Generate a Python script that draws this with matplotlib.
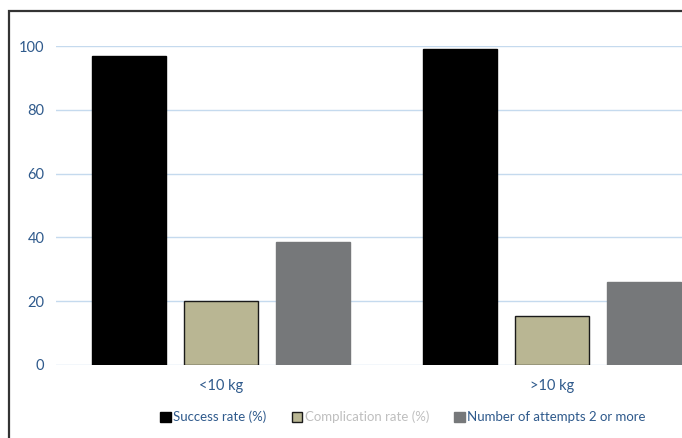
import matplotlib
matplotlib.use("Agg")
import matplotlib.pyplot as plt
import numpy as np
from matplotlib.patches import Rectangle

plt.rcParams['font.family'] = ['Lato', 'DejaVu Sans']

categories = ['<10 kg', '>10 kg']
series_names = ['Success rate (%)', 'Complication rate (%)', 'Number of attempts 2 or more']
success = [97, 99]
complication = [20, 15.3]
attempts = [38.6, 26]
yticks = [0, 20, 40, 60, 80, 100]

colors = ['#000000', '#B9B693', '#76787A']
edges = ['#000000', '#1a1a1a', '#76787A']
text_blue = '#2F5A8C'
legend_text_colors = [text_blue, '#BFBFBF', text_blue]

W, H = 682, 438
fig = plt.figure(figsize=(W / 100, H / 100), dpi=100)

# outer frame (cut off at right / bottom like the source image)
fig.patches.append(Rectangle((9 / W, -0.1), 1.2, 1 - 11 / H + 0.1, transform=fig.transFigure,
                             fill=False, edgecolor='#333333', linewidth=1.6))

ax = fig.add_axes([55.5 / W, (H - 365) / H, 662 / W, 319 / H])

x = np.arange(len(categories))
offset = 0.278
width = 0.2236
data = [success, complication, attempts]
handles = []
for i, vals in enumerate(data):
    b = ax.bar(x + (i - 1) * offset, vals, width, color=colors[i], edgecolor=edges[i],
               linewidth=1.0, zorder=3, label=series_names[i])
    handles.append(b)

ax.set_xlim(-0.5, 1.5)
ax.set_ylim(0, 100)
ax.set_yticks(yticks)
ax.set_xticks(x)
ax.set_xticklabels(categories)
ax.grid(axis='y', color='#C5DAEE', linewidth=1.0, zorder=0)
for s in ax.spines.values():
    s.set_visible(False)
ax.tick_params(axis='both', length=0, labelsize=10.5, colors=text_blue)
ax.tick_params(axis='y', pad=8)
ax.tick_params(axis='x', pad=10)

leg = fig.legend(handles=handles, labels=series_names, loc='center', ncol=3,
                 bbox_to_anchor=(403 / W, 1 - 417 / H), frameon=False, fontsize=9.5,
                 handlelength=0.8, handleheight=0.8, handletextpad=0.2, columnspacing=1.9)
for t, c in zip(leg.get_texts(), legend_text_colors):
    t.set_color(c)

fig.savefig('out.png', dpi=100)
